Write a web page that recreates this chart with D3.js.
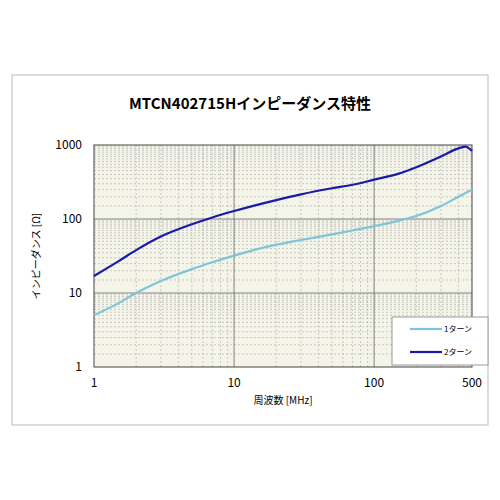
<!DOCTYPE html>
<html lang="en">
  <head>
    <meta charset="UTF-8" />
    <script src="https://d3js.org/d3.v7.min.js"></script>
    <style>
      body { margin: 0; background: #fff; }
      text { font-family: "Noto Sans CJK JP", "Noto Sans", sans-serif; }
    </style>
  </head>
  <body>
    <svg id="canvas" width="500" height="500"></svg>
    <script>
      // 周波数 [MHz]
      const freq = [1, 1.5, 2, 3, 5, 7, 10, 20, 30, 50, 70, 100, 150, 200, 300, 400, 450, 500];
      // インピーダンス [Ω]
      const turn1 = [5, 7.3, 10, 14.5, 21, 26, 32, 45, 52, 62, 70, 80, 95, 110, 150, 200, 225, 250];
      const turn2 = [17, 27, 38, 58, 85, 105, 128, 180, 215, 260, 290, 340, 410, 500, 700, 900, 950, 830];
      const seriesNames = ["1ターン", "2ターン"];
      const seriesColors = ["#7fc4d8", "#1a1aaa"];
      const xTicks = [1, 10, 100, 500];
      const yTicks = [1, 10, 100, 1000];

      const svg = d3.select("#canvas");
      const mLeft = 94, mRight = 472, mTop = 145, mBottom = 367;

      // 外枠
      svg.append("rect").attr("x", 12).attr("y", 75).attr("width", 476).attr("height", 350)
        .attr("fill", "#fff").attr("stroke", "#bbb");

      svg.append("text").attr("x", 250).attr("y", 109).attr("text-anchor", "middle")
        .attr("font-size", 15).attr("font-weight", "bold").text("MTCN402715Hインピーダンス特性");

      const x = d3.scaleLog().domain([1, 500]).range([mLeft, mRight]);
      const y = d3.scaleLog().domain([1, 1000]).range([mBottom, mTop]);

      svg.append("rect").attr("x", mLeft).attr("y", mTop).attr("width", mRight - mLeft)
        .attr("height", mBottom - mTop).attr("fill", "#f4f4e9");

      // 補助目盛
      const minorX = [], minorY = [];
      for (let d = 1; d <= 100; d *= 10)
        for (let k = 2; k <= 9; k++) if (d * k < 500) minorX.push(d * k);
      for (let d = 1; d <= 100; d *= 10)
        for (let k = 1; k <= 9; k++)
          for (let h = 0; h < 2; h++) if (!(k === 1 && h === 0)) minorY.push(d * (k + h * 0.5));
      svg.selectAll(".mx").data(minorX).enter().append("line")
        .attr("x1", d => x(d)).attr("x2", d => x(d)).attr("y1", mTop).attr("y2", mBottom)
        .attr("stroke", "#aaa").attr("stroke-width", 0.6).attr("stroke-dasharray", "2,2");
      svg.selectAll(".my").data(minorY).enter().append("line")
        .attr("y1", d => y(d)).attr("y2", d => y(d)).attr("x1", mLeft).attr("x2", mRight)
        .attr("stroke", "#aaa").attr("stroke-width", 0.6).attr("stroke-dasharray", "2,2");
      // 主目盛
      svg.selectAll(".Mx").data([10, 100]).enter().append("line")
        .attr("x1", d => x(d)).attr("x2", d => x(d)).attr("y1", mTop).attr("y2", mBottom)
        .attr("stroke", "#666").attr("stroke-width", 0.8);
      svg.selectAll(".My").data([10, 100]).enter().append("line")
        .attr("y1", d => y(d)).attr("y2", d => y(d)).attr("x1", mLeft).attr("x2", mRight)
        .attr("stroke", "#666").attr("stroke-width", 0.8);
      svg.append("rect").attr("x", mLeft).attr("y", mTop).attr("width", mRight - mLeft)
        .attr("height", mBottom - mTop).attr("fill", "none").attr("stroke", "#444");

      svg.selectAll(".xt").data(xTicks).enter().append("text")
        .attr("x", d => x(d)).attr("y", mBottom + 20).attr("text-anchor", "middle")
        .attr("font-size", 12).text(d => d);
      svg.selectAll(".yt").data(yTicks).enter().append("text")
        .attr("x", mLeft - 12).attr("y", d => y(d) + 4).attr("text-anchor", "end")
        .attr("font-size", 12).text(d => d);

      svg.append("text").attr("x", 283).attr("y", 404).attr("text-anchor", "middle")
        .attr("font-size", 10).text("周波数 [MHz]");
      svg.append("text").attr("transform", "translate(40,256) rotate(-90)")
        .attr("text-anchor", "middle").attr("font-size", 10).text("インピーダンス [Ω]");

      const line = d3.line().curve(d3.curveMonotoneX).x(d => x(d[0])).y(d => y(d[1]));
      [turn1, turn2].forEach((s, i) => {
        svg.append("path").datum(freq.map((f, j) => [f, s[j]]))
          .attr("d", line).attr("fill", "none")
          .attr("stroke", seriesColors[i]).attr("stroke-width", 2.2);
      });

      // 凡例
      const lg = svg.append("g").attr("transform", "translate(392,317)");
      lg.append("rect").attr("width", 96).attr("height", 48).attr("fill", "#fff").attr("stroke", "#999");
      seriesNames.forEach((n, i) => {
        const yy = 12 + i * 23;
        lg.append("line").attr("x1", 18).attr("x2", 50).attr("y1", yy).attr("y2", yy)
          .attr("stroke", seriesColors[i]).attr("stroke-width", 2.2);
        lg.append("text").attr("x", 52).attr("y", yy + 3).attr("font-size", 8).text(n);
      });
    </script>
  </body>
</html>
